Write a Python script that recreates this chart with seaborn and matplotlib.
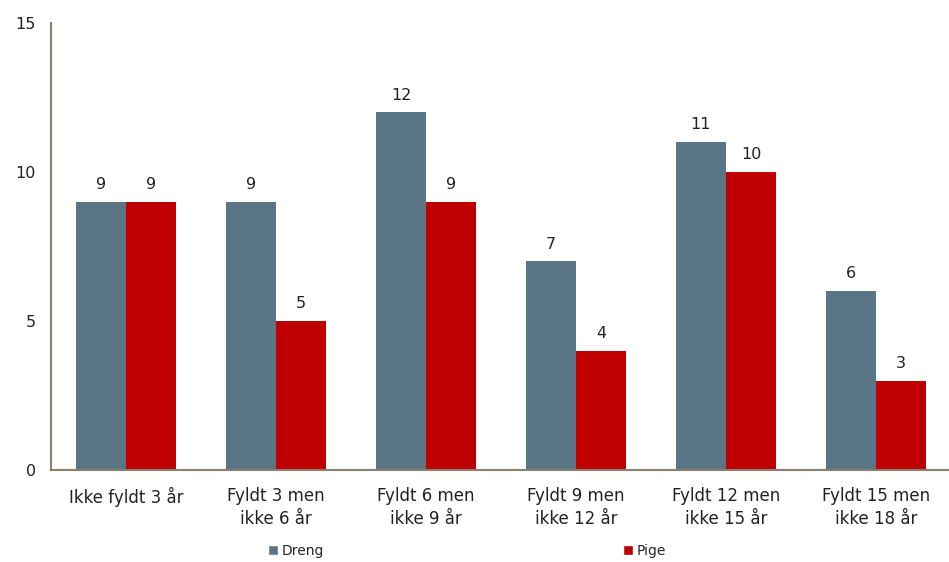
import matplotlib
matplotlib.use("Agg")
import matplotlib.pyplot as plt
import seaborn as sns
import pandas as pd
from matplotlib.patches import Patch

categories = ["Ikke fyldt 3 år", "Fyldt 3 men\nikke 6 år", "Fyldt 6 men\nikke 9 år",
              "Fyldt 9 men\nikke 12 år", "Fyldt 12 men\nikke 15 år", "Fyldt 15 men\nikke 18 år"]
series = ["Dreng", "Pige"]
dreng = [9, 9, 12, 7, 11, 6]
pige = [9, 5, 9, 4, 10, 3]
yticks = [0, 5, 10, 15]

df = pd.DataFrame({
    "kategori": categories * 2,
    "køn": ["Dreng"] * len(categories) + ["Pige"] * len(categories),
    "antal": dreng + pige,
})

sns.set_theme(style="white")
plt.rcParams['font.family'] = ['DejaVu Sans']

fig = plt.figure(figsize=(9.49, 5.62), dpi=100)
ax = fig.add_axes([51/949, 1 - 470/562, 900/949, 447/562])

palette = {"Dreng": "#5a7585", "Pige": "#bf0000"}
sns.barplot(data=df, x="kategori", y="antal", hue="køn", order=categories,
            hue_order=series, palette=palette, width=0.667, saturation=1,
            linewidth=0, ax=ax, legend=False)

for cont in ax.containers:
    ax.bar_label(cont, padding=7, fontsize=11.5, color="#222222")

ax.set_ylim(0, 15)
ax.set_yticks(yticks)
ax.set_xlim(-0.5, len(categories) - 0.5)
ax.set_xlabel("")
ax.set_ylabel("")
for s in ["top", "right"]:
    ax.spines[s].set_visible(False)
for s in ["left", "bottom"]:
    ax.spines[s].set_color("#8a8070")
    ax.spines[s].set_linewidth(1.5)
ax.tick_params(axis="y", length=0, pad=11, labelsize=11.5, labelcolor="#222222")
ax.tick_params(axis="x", length=0, pad=12, labelsize=12, labelcolor="#222222")
for lbl in ax.get_xticklabels():
    lbl.set_linespacing(1.35)

handles = [Patch(facecolor=palette[s], label=s) for s in series]
fig.legend(handles=handles, loc="center", bbox_to_anchor=(467/949, 1 - 551/562),
           ncol=2, frameon=False, fontsize=10, handlelength=0.7, handleheight=0.7,
           handletextpad=0.3, columnspacing=21.5)

fig.savefig("out.png", dpi=100)
